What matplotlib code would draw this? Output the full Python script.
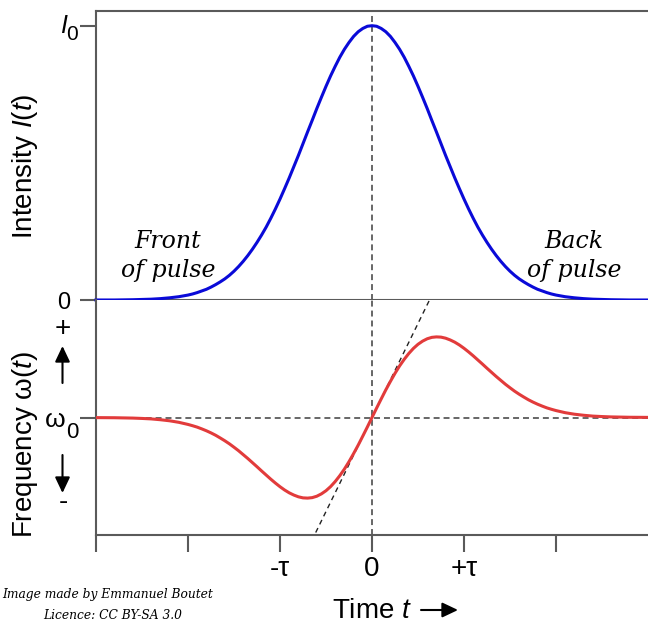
import matplotlib
matplotlib.use("Agg")
import matplotlib.pyplot as plt

plt.rcParams['font.family'] = ['Liberation Sans', 'DejaVu Sans']
plt.rcParams['mathtext.fontset'] = 'custom'
plt.rcParams['mathtext.rm'] = 'Liberation Sans'
plt.rcParams['mathtext.it'] = 'Liberation Sans:italic'

# time axis, in units of tau (fine steps where the curves bend)
time = [-3.0, -2.8, -2.6, -2.5, -2.4, -2.3, -2.2, -2.1,
        -2.0, -1.95, -1.9, -1.85, -1.8, -1.75, -1.7, -1.65, -1.6, -1.55,
        -1.5, -1.45, -1.4, -1.35, -1.3, -1.25, -1.2, -1.15, -1.1, -1.05,
        -1.0, -0.95, -0.9, -0.85, -0.8, -0.75, -0.7, -0.65, -0.6, -0.55,
        -0.5, -0.45, -0.4, -0.35, -0.3, -0.25, -0.2, -0.15, -0.1, -0.05,
        0.0, 0.05, 0.1, 0.15, 0.2, 0.25, 0.3, 0.35, 0.4, 0.45,
        0.5, 0.55, 0.6, 0.65, 0.7, 0.75, 0.8, 0.85, 0.9, 0.95,
        1.0, 1.05, 1.1, 1.15, 1.2, 1.25, 1.3, 1.35, 1.4, 1.45,
        1.5, 1.55, 1.6, 1.65, 1.7, 1.75, 1.8, 1.85, 1.9, 1.95,
        2.0, 2.1, 2.2, 2.3, 2.4, 2.5, 2.6, 2.8, 3.0]

# intensity, relative to I0
intensity = [0.000, 0.000, 0.001, 0.002, 0.003, 0.005, 0.008, 0.012,
             0.018, 0.022, 0.027, 0.033, 0.039, 0.047, 0.056, 0.066, 0.077, 0.090,
             0.105, 0.122, 0.141, 0.162, 0.185, 0.210, 0.237, 0.266, 0.298, 0.332,
             0.368, 0.406, 0.445, 0.486, 0.527, 0.570, 0.613, 0.655, 0.698, 0.739,
             0.779, 0.817, 0.852, 0.885, 0.914, 0.939, 0.961, 0.978, 0.990, 0.998,
             1.000, 0.998, 0.990, 0.978, 0.961, 0.939, 0.914, 0.885, 0.852, 0.817,
             0.779, 0.739, 0.698, 0.655, 0.613, 0.570, 0.527, 0.486, 0.445, 0.406,
             0.368, 0.332, 0.298, 0.266, 0.237, 0.210, 0.185, 0.162, 0.141, 0.122,
             0.105, 0.090, 0.077, 0.066, 0.056, 0.047, 0.039, 0.033, 0.027, 0.022,
             0.018, 0.012, 0.008, 0.005, 0.003, 0.002, 0.001, 0.000, 0.000]

# frequency shift from omega0 (axis runs -1 .. +1)
freq = [-0.001, -0.002, -0.005, -0.008, -0.012, -0.019, -0.028, -0.041,
        -0.059, -0.070, -0.082, -0.097, -0.113, -0.131, -0.151, -0.174, -0.198, -0.224,
        -0.253, -0.283, -0.316, -0.349, -0.384, -0.419, -0.455, -0.490, -0.525, -0.558,
        -0.589, -0.617, -0.641, -0.660, -0.675, -0.684, -0.686, -0.682, -0.670, -0.650,
        -0.623, -0.588, -0.545, -0.495, -0.439, -0.376, -0.307, -0.235, -0.158, -0.080,
        0.000, 0.080, 0.158, 0.235, 0.307, 0.376, 0.439, 0.495, 0.545, 0.588,
        0.623, 0.650, 0.670, 0.682, 0.686, 0.684, 0.675, 0.660, 0.641, 0.617,
        0.589, 0.558, 0.525, 0.490, 0.455, 0.419, 0.384, 0.349, 0.316, 0.283,
        0.253, 0.224, 0.198, 0.174, 0.151, 0.131, 0.113, 0.097, 0.082, 0.070,
        0.059, 0.041, 0.028, 0.019, 0.012, 0.008, 0.005, 0.002, 0.001]

# slope of the chirp at t = 0
tangent_t = [-1.0, 1.0]
tangent_w = [-1.6, 1.6]

xticks = [-3, -2, -1, 0, 1, 2]
xtick_labels = ['', '', '-τ', '0', '+τ', '']

W, H = 648, 625
gray = '#5a5a5a'
blue = '#0a0ad8'
red = '#e23b3b'


def fx(px):
    return px / W


def fy(py):
    return (H - py) / H


fig = plt.figure(figsize=(6.48, 6.25), dpi=100)
ax1 = fig.add_axes([fx(96), fy(300), fx(552), 289 / H])
ax2 = fig.add_axes([fx(96), fy(535), fx(552), 235 / H])

for ax in (ax1, ax2):
    ax.set_xlim(-3, 3)
    ax.spines['right'].set_visible(False)
    for s in ax.spines.values():
        s.set_color(gray)
        s.set_linewidth(1.5)
    ax.axvline(0, color=gray, lw=1.3, ls=(0, (3.3, 2.2)), zorder=1)
    ax.tick_params(axis='y', direction='out', length=11.5, width=1.5, color=gray)

ax2.spines['top'].set_visible(False)

ax1.plot(time, intensity, color=blue, lw=2.2, zorder=3, clip_on=False,
         solid_joinstyle='round')
ax1.set_ylim(0, 1.0536)
ax1.set_yticks([0, 1])
ax1.set_yticklabels(['', ''])
ax1.set_xticks([])

ax2.axhline(0, color=gray, lw=1.3, ls=(0, (3.3, 2.2)), zorder=1)
ax2.plot(tangent_t, tangent_w, color='#222222', lw=1.0, ls=(0, (3.6, 2.9)), zorder=2)
ax2.plot(time, freq, color=red, lw=2.2, zorder=3, solid_joinstyle='round')
ax2.set_ylim(-1, 1)
ax2.set_yticks([0])
ax2.set_yticklabels([''])
ax2.set_xticks(xticks)
ax2.set_xticklabels(xtick_labels)
ax2.tick_params(axis='x', direction='out', length=12.2, width=1.5,
                color=gray, labelsize=20, pad=3)

# y tick labels, written by hand for the large subscripts
fig.text(fx(70), fy(309), '0', ha='right', va='baseline', fontsize=17)
fig.text(fx(67.5), fy(33), 'I', ha='right', va='baseline', fontsize=18, style='italic')
fig.text(fx(66.5), fy(40), '0', ha='left', va='baseline', fontsize=15)
fig.text(fx(66), fy(427), 'ω', ha='right', va='baseline', fontsize=19)
fig.text(fx(66), fy(438), '0', ha='left', va='baseline', fontsize=16)

# axis labels
fig.text(fx(25), fy(166), 'Intensity $I(t)$', rotation=90, ha='center', va='center', fontsize=20)
fig.text(fx(25), fy(444), 'Frequency ω($t$)', rotation=90, ha='center', va='center', fontsize=20)
fig.text(fx(63), fy(329), '+', ha='center', va='center', fontsize=20)
fig.text(fx(63), fy(502), '-', ha='center', va='center', fontsize=20)
arrow = dict(arrowstyle='-|>,head_length=0.95,head_width=0.45', color='black', lw=1.5,
             shrinkA=0, shrinkB=0)
fig.add_artist(plt.Annotation('', xy=(fx(62.5), fy(346)), xytext=(fx(62.5), fy(383)),
                              xycoords='figure fraction', arrowprops=arrow))
fig.add_artist(plt.Annotation('', xy=(fx(62.5), fy(493)), xytext=(fx(62.5), fy(455)),
                              xycoords='figure fraction', arrowprops=arrow))

fig.text(fx(372), fy(618), 'Time $t$', ha='center', va='baseline', fontsize=20)
fig.add_artist(plt.Annotation('', xy=(fx(458), fy(610)), xytext=(fx(421), fy(610)),
                              xycoords='figure fraction', arrowprops=arrow))

serif = dict(family='DejaVu Serif', style='italic', ha='center', va='baseline')
fig.text(fx(168), fy(248), 'Front', fontsize=17, **serif)
fig.text(fx(168), fy(277), 'of pulse', fontsize=17, **serif)
fig.text(fx(574), fy(248), 'Back', fontsize=17, **serif)
fig.text(fx(574), fy(277), 'of pulse', fontsize=17, **serif)

fig.text(fx(108), fy(598), 'Image made by Emmanuel Boutet', fontsize=8.8, **serif)
fig.text(fx(113), fy(619), 'Licence: CC BY-SA 3.0', fontsize=8.8, **serif)

fig.savefig('out.png', dpi=100)
